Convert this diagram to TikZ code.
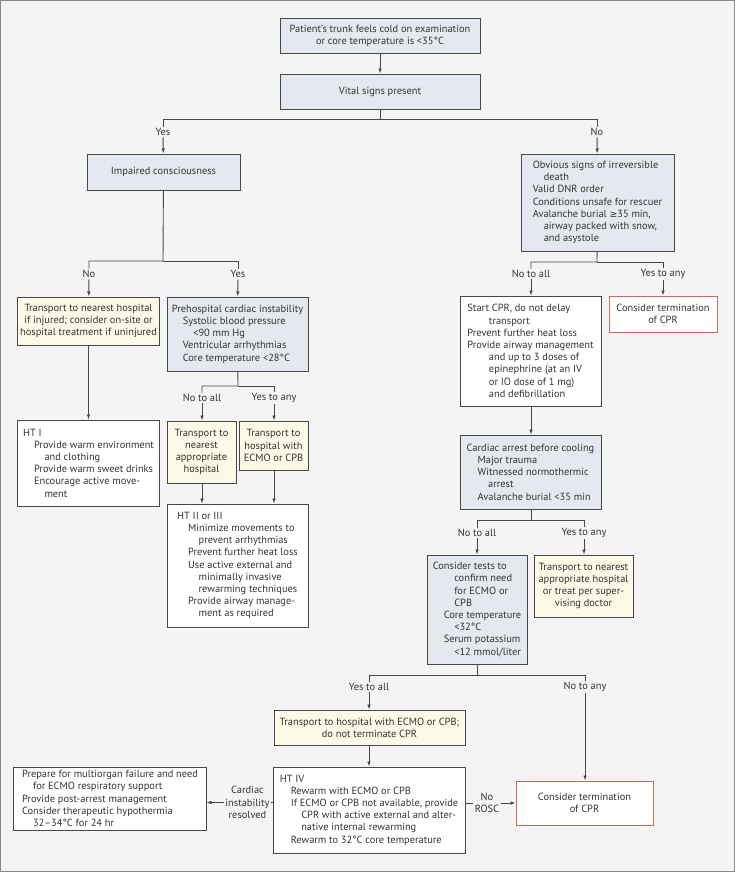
\documentclass[tikz,border=0pt]{standalone}
\usepackage{fontspec}
\setmainfont{PT Sans}
\newfontfamily\symfont{DejaVu Sans}
\usetikzlibrary{arrows.meta,positioning}

\definecolor{bgcol}{HTML}{F4F4F4}
\definecolor{framecol}{HTML}{8A8A8A}
\definecolor{linecol}{HTML}{474747}
\definecolor{txtcol}{HTML}{333333}
\definecolor{boxblue}{HTML}{E3E9EE}
\definecolor{boxyel}{HTML}{FCFAE6}
\definecolor{termred}{HTML}{C8695E}

\newcommand{\fs}{\fontsize{10.4bp}{12.2bp}\selectfont}
\newcommand{\ia}{\hspace*{11bp}}
\newcommand{\ib}{\hspace*{21.5bp}}
\newcommand{\geqsym}{{\symfont\fontsize{9.4bp}{12bp}\selectfont ≥}}

\tikzset{
  cbox/.style={draw=linecol, line width=1bp, inner sep=0pt, text=txtcol, font=\fs},
  bluebox/.style={cbox, fill=boxblue},
  yelbox/.style={cbox, fill=boxyel},
  whtbox/.style={cbox, fill=white},
  redbox/.style={cbox, draw=termred, fill=white},
  sz/.style 2 args={minimum width=#1bp, minimum height=#2bp},
  lbl/.style={inner sep=1.5bp, text=txtcol, font=\fs, align=center},
  wire/.style={draw=linecol, line width=0.9bp},
  arr/.style={wire, -{Latex[length=5bp,width=3.6bp]}}
}

\begin{document}
\begin{tikzpicture}[x=1bp,y=-1bp]
  \useasboundingbox (0,0) rectangle (735,872);
  \fill[bgcol] (0,0) rectangle (735,872);
  \draw[framecol,line width=1.5bp] (0.75,0.75) rectangle (734.25,871.25);

  % top of the chart
  \node[bluebox,sz={200}{35},align=center] (trunk) at (380,35.5)
    {Patient's trunk feels cold on examination\\or core temperature is <35°C};
  \node[bluebox,sz={200}{35}] (vital) at (380,91.5) {Vital signs present};
  \node[bluebox,sz={153}{36}] (impaired) at (163.5,172) {Impaired consciousness};
  \node[bluebox,sz={153}{97},align=left] (obvious) at (597.5,202.5)
    {Obvious signs of irreversible\\\ia death\\Valid DNR order\\Conditions unsafe for rescuer\\
     Avalanche burial \geqsym35 min,\\\ia airway packed with snow,\\\ia and asystole};

  % left branch
  \node[yelbox,sz={141}{48},align=center] (transnear) at (88.5,321)
    {Transport to nearest hospital\\if injured; consider on-site or\\hospital treatment if uninjured};
  \node[bluebox,sz={141}{74},align=left] (prehosp) at (237.5,334)
    {Prehospital cardiac instability\\\ia Systolic blood pressure\\\ib <90 mm Hg\\
     \ia Ventricular arrhythmias\\\ia Core temperature <28°C};
  \node[yelbox,sz={69}{62},align=center] (tnearapp) at (201.5,452)
    {Transport to\\nearest\\appropriate\\hospital};
  \node[yelbox,sz={69}{49},align=center] (tecmo) at (273.5,445.5)
    {Transport to\\hospital with\\ECMO or CPB};
  \node[whtbox,sz={141}{86},align=left] (htone) at (88.5,463)
    {HT I\\\ia Provide warm environment\\\ib and clothing\\\ia Provide warm sweet drinks\\
     \ia Encourage active move-\\\ib ment};
  \node[whtbox,sz={141}{123},align=left] (httwo) at (237.5,565.5)
    {HT II or III\\\ia Minimize movements to\\\ib prevent arrhythmias\\\ia Prevent further heat loss\\
     \ia Use active external and\\\ib minimally invasive\\\ib rewarming techniques\\
     \ia Provide airway manage-\\\ib ment as required};

  % right branch
  \node[whtbox,sz={141}{110},align=left] (startcpr) at (530.5,351)
    {Start CPR, do not delay\\\ib transport\\Prevent further heat loss\\Provide airway management\\
     \ib and up to 3 doses of\\\ib epinephrine (at an IV\\\ib or IO dose of 1 mg)\\\ib and defibrillation};
  \node[redbox,sz={108}{36},align=center] (termone) at (663,314)
    {Consider termination\\of CPR};
  \node[bluebox,sz={141}{74},align=left] (cardarr) at (530.5,472)
    {Cardiac arrest before cooling\\\ia Major trauma\\\ia Witnessed normothermic\\\ib arrest\\
     \ia Avalanche burial <35 min};
  \node[bluebox,sz={100}{109},align=left] (tests) at (477,609.5)
    {Consider tests to\\\ib confirm need\\\ib for ECMO or\\\ib CPB\\\ia Core temperature\\\ib <32°C\\
     \ia Serum potassium\\\ib <12 mmol/liter};
  \node[yelbox,sz={99}{62},align=center] (tsuper) at (583.5,586)
    {Transport to nearest\\appropriate hospital\\or treat per super-\\vising doctor};

  % bottom
  \node[yelbox,sz={191}{35},align=center] (tecmotwo) at (369.5,727.5)
    {Transport to hospital with ECMO or CPB;\\do not terminate CPR};
  \node[whtbox,sz={192}{86},align=left] (htfour) at (369,810)
    {HT IV\\\ia Rewarm with ECMO or CPB\\\ia If ECMO or CPB not available, provide\\
     \ib CPR with active external and alter-\\\ib native internal rewarming\\
     \ia Rewarm to 32°C core temperature};
  \node[redbox,sz={137}{44},align=center] (termtwo) at (584.5,803)
    {Consider termination\\of CPR};
  \node[whtbox,sz={192}{63},align=left] (post) at (110,798.5)
    {Prepare for multiorgan failure and need\\\ia for ECMO respiratory support\\
     Provide post-arrest management\\Consider therapeutic hypothermia\\\ia 32--34°C for 24 hr};

  % branch labels
  \node[lbl] (yesa) at (163,132) {Yes};
  \node[lbl] (noa) at (597,132) {No};
  \node[lbl] (nob) at (89,274) {No};
  \node[lbl] (yesb) at (238,274) {Yes};
  \node[lbl] (noallc) at (202,398) {No to all};
  \node[lbl] (yesanyc) at (274,398) {Yes to any};
  \node[lbl] (noalld) at (531,274) {No to all};
  \node[lbl] (yesanyd) at (663,274) {Yes to any};
  \node[lbl] (noalle) at (477,533) {No to all};
  \node[lbl] (yesanye) at (584,533) {Yes to any};
  \node[lbl] (yesallf) at (369,687) {Yes to all};
  \node[lbl] (noanyf) at (585,687) {No to any};
  \node[lbl] (resolved) at (247.5,802.5) {Cardiac\\instability\\resolved};
  \node[lbl] (norosc) at (487,803) {No\\ROSC};

  % junctions
  \coordinate (ja) at (380,119);
  \coordinate (jb) at (163,261);
  \coordinate (jc) at (238,386);
  \coordinate (jd) at (597,262);
  \coordinate (je) at (531,520);
  \coordinate (jf) at (477,675);

  % connectors
  \draw[arr] (trunk) -- (vital);
  \draw[wire] (vital) -- (ja) -| (yesa);
  \draw[wire] (ja) -| (noa);
  \draw[arr] (yesa) -- (impaired);
  \draw[arr] (noa) -- (obvious);

  \draw[wire] (impaired) -- (jb) -| (nob);
  \draw[wire] (jb) -| (yesb);
  \draw[arr] (nob) -- (transnear);
  \draw[arr] (yesb) -- (prehosp);
  \draw[arr] (transnear) -- (htone);
  \draw[wire] (prehosp) -- (jc) -| (noallc);
  \draw[wire] (jc) -| (yesanyc);
  \draw[arr] (noallc) -- (noallc |- tnearapp.north);
  \draw[arr] (yesanyc) -- (yesanyc |- tecmo.north);
  \draw[arr] (tnearapp.south -| noallc) -- (noallc |- httwo.north);
  \draw[arr] (tecmo.south -| yesanyc) -- (yesanyc |- httwo.north);

  \draw[wire] (obvious) -- (jd) -| (noalld);
  \draw[wire] (jd) -| (yesanyd);
  \draw[arr] (noalld) -- (noalld |- startcpr.north);
  \draw[arr] (yesanyd) -- (yesanyd |- termone.north);
  \draw[arr] (startcpr.south -| noalld) -- (noalld |- cardarr.north);
  \draw[wire] (cardarr.south -| noalld) -- (je) -| (noalle);
  \draw[wire] (je) -| (yesanye);
  \draw[arr] (noalle) -- (noalle |- tests.north);
  \draw[arr] (yesanye) -- (yesanye |- tsuper.north);

  \draw[wire] (tests) -- (jf) -| (yesallf);
  \draw[wire] (jf) -| (noanyf);
  \draw[arr] (yesallf) -- (yesallf |- tecmotwo.north);
  \draw[arr] (noanyf) -- (noanyf |- termtwo.north);
  \draw[arr] (tecmotwo.south -| yesallf) -- (yesallf |- htfour.north);

  \draw[wire] (htfour.west |- resolved) -- (resolved);
  \draw[arr] (resolved) -- (post.east |- resolved);
  \draw[wire] (htfour.east |- norosc) -- (norosc);
  \draw[arr] (norosc) -- (termtwo.west |- norosc);
\end{tikzpicture}
\end{document}
